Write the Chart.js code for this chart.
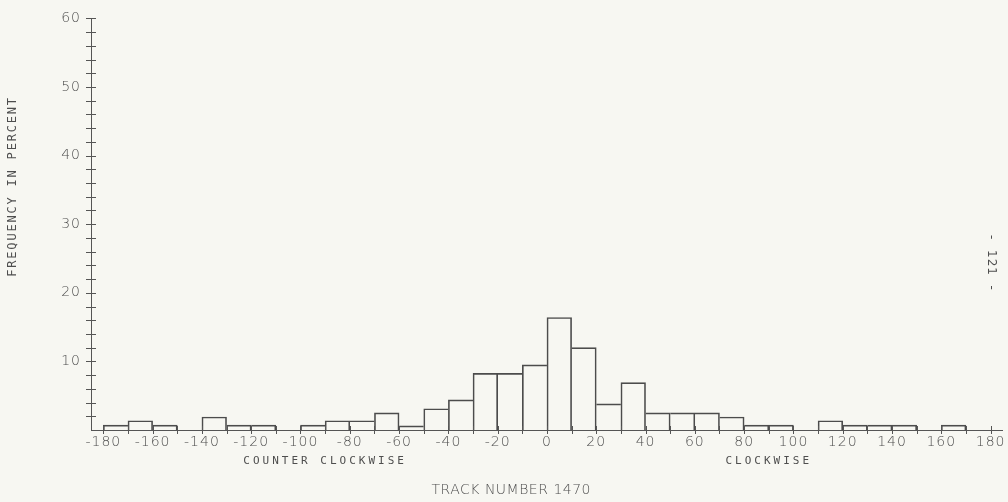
<!DOCTYPE html>
<html>
<head>
<meta charset="utf-8">
<script src="https://cdn.jsdelivr.net/npm/chart.js@4.4.1/dist/chart.umd.min.js"></script>
<style>
  html, body { margin: 0; padding: 0; background: #f7f7f2; }
  #wrap { width: 1008px; height: 502px; position: relative; }
</style>
</head>
<body>
<div id="wrap"><canvas id="hist"></canvas></div>
<script>
// 10 degree bins, left edges
const binStarts = [-180, -170, -160, -150, -140, -130, -120, -110, -100, -90, -80, -70,
                   -60, -50, -40, -30, -20, -10, 0, 10, 20, 30, 40, 50,
                   60, 70, 80, 90, 100, 110, 120, 130, 140, 150, 160, 170];
// frequency in percent
const freq = [0.7, 1.35, 0.7, 0, 1.9, 0.7, 0.7, 0, 0.7, 1.35, 1.35, 2.5,
              0.6, 3.1, 4.4, 8.25, 8.25, 9.5, 16.4, 12.0, 3.8, 6.9, 2.5, 2.5,
              2.5, 1.9, 0.7, 0.7, 0, 1.35, 0.7, 0.7, 0.7, 0, 0.7, 0];
const xLabels = [-180, -160, -140, -120, -100, -80, -60, -40, -20, 0, 20, 40, 60, 80, 100, 120, 140, 160, 180];
const yLabels = [10, 20, 30, 40, 50, 60];

const lineColor = '#555';
const textColor = '#4e4e4e';

const points = binStarts.map((b, i) => ({ x: b + 5, y: freq[i] }));

// one line on shared edges: the taller bar owns it
function edgeWidths(ctx) {
  const i = ctx.dataIndex;
  const cur = freq[i];
  const prev = i > 0 ? freq[i - 1] : -1;
  const next = i < freq.length - 1 ? freq[i + 1] : -1;
  return { top: 1, bottom: 0, left: prev < cur ? 1 : 0, right: next <= cur ? 1 : 0 };
}

const plotter = {
  id: 'plotter',
  beforeDraw(chart) {
    chart.ctx.letterSpacing = '1px';
  },
  afterDraw(chart) {
    const { ctx, scales: { x, y } } = chart;
    ctx.save();
    ctx.strokeStyle = lineColor;
    ctx.lineWidth = 1;
    ctx.beginPath();
    y.ticks.forEach(t => {
      if (t.value === 0) return;
      const py = Math.round(y.getPixelForValue(t.value)) + 0.5;
      ctx.moveTo(x.left - 5, py);
      ctx.lineTo(x.left + 5, py);
    });
    x.ticks.forEach(t => {
      const px = Math.round(x.getPixelForValue(t.value)) + 0.5;
      ctx.moveTo(px, y.bottom - 4);
      ctx.lineTo(px, y.bottom + 4);
    });
    ctx.stroke();

    ctx.fillStyle = textColor;
    ctx.textBaseline = 'middle';
    ctx.textAlign = 'center';

    ctx.font = '11px "DejaVu Sans Mono"';
    ctx.letterSpacing = '3px';
    ctx.fillText('COUNTER CLOCKWISE', x.getPixelForValue(-90), 461);
    ctx.fillText('CLOCKWISE', x.getPixelForValue(90), 461);

    ctx.font = '200 14px "DejaVu Sans"';
    ctx.letterSpacing = '0.5px';
    ctx.fillText('TRACK NUMBER 1470', x.getPixelForValue(-14.5), 490);

    ctx.save();
    ctx.translate(13, y.getPixelForValue(35.5));
    ctx.rotate(-Math.PI / 2);
    ctx.font = '12px "DejaVu Sans Mono"';
    ctx.letterSpacing = '1.8px';
    ctx.fillText('FREQUENCY IN PERCENT', 0, 0);
    ctx.restore();

    ctx.save();
    ctx.translate(991, 263);
    ctx.rotate(Math.PI / 2);
    ctx.font = '12px "DejaVu Sans"';
    ctx.letterSpacing = '1px';
    ctx.fillText('-  121  -', 0, 0);
    ctx.restore();

    ctx.restore();
  }
};

new Chart(document.getElementById('hist'), {
  type: 'bar',
  data: {
    datasets: [{
      data: points,
      backgroundColor: 'rgba(0,0,0,0)',
      borderColor: '#4c4c4c',
      borderWidth: edgeWidths,
      borderSkipped: false,
      barPercentage: 1,
      categoryPercentage: 1,
      grouped: false
    }]
  },
  options: {
    responsive: true,
    maintainAspectRatio: false,
    animation: false,
    layout: { padding: { left: 0, right: 3, top: 12, bottom: 0 } },
    plugins: { legend: { display: false }, tooltip: { enabled: false } },
    scales: {
      x: {
        type: 'linear',
        min: -180,
        max: 180,
        afterFit(scale) { scale.height = 72; },
        grid: { display: false, drawTicks: false },
        border: { display: true, color: lineColor, width: 1 },
        ticks: {
          stepSize: 10,
          autoSkip: false,
          maxRotation: 0,
          padding: 4,
          color: textColor,
          font: { family: 'DejaVu Sans', size: 14, weight: 200 },
          callback: v => xLabels.includes(v) ? String(v) : ''
        }
      },
      y: {
        min: 0,
        max: 60,
        afterFit(scale) { scale.width = 91; },
        grid: { display: false, drawTicks: false },
        border: { display: true, color: lineColor, width: 1 },
        ticks: {
          stepSize: 2,
          autoSkip: false,
          padding: 10,
          color: textColor,
          font: { family: 'DejaVu Sans', size: 14, weight: 200 },
          callback: v => yLabels.includes(v) ? String(v) : ''
        }
      }
    }
  },
  plugins: [plotter]
});
</script>
</body>
</html>
